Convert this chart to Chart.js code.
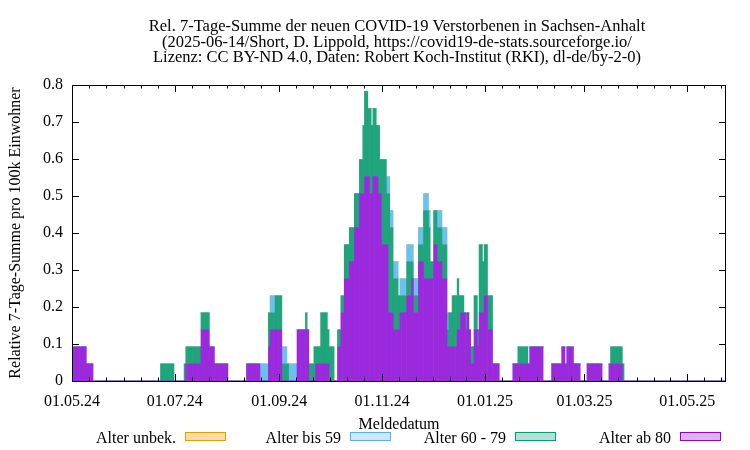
<!DOCTYPE html>
<html>
<head>
<meta charset="utf-8">
<script src="https://cdn.jsdelivr.net/npm/chart.js@4/dist/chart.umd.min.js"></script>
<style>
  body { margin: 0; background: #fff; }
</style>
</head>
<body>
<canvas id="plot" width="750" height="450"></canvas>
<script>
// Tage gezaehlt ab 01.05.24, Werte: rel. 7-Tage-Summe pro 100k
// Laeufe: [erster Tag, letzter Tag, Wert]
const ab80Runs = [
  [1, 8, 0.092], [9, 12, 0.046],
  [68, 76, 0.046], [77, 81, 0.138], [82, 84, 0.092], [85, 92, 0.046],
  [104, 111, 0.046], [117, 117, 0.092], [118, 124, 0.138],
  [134, 140, 0.138], [145, 152, 0.046],
  [158, 159, 0.092], [160, 161, 0.184], [162, 164, 0.276], [165, 167, 0.322],
  [168, 170, 0.414], [171, 173, 0.506], [174, 176, 0.552], [177, 178, 0.506],
  [179, 181, 0.552], [182, 183, 0.506], [184, 187, 0.368], [188, 190, 0.184],
  [191, 194, 0.138], [195, 198, 0.184], [199, 201, 0.230], [202, 202, 0.276],
  [203, 205, 0.184], [206, 208, 0.322], [209, 214, 0.276], [215, 216, 0.368],
  [217, 219, 0.322], [220, 222, 0.276], [223, 228, 0.092], [229, 230, 0.138],
  [231, 233, 0.184], [234, 234, 0.138], [235, 235, 0.184], [236, 236, 0.138],
  [237, 238, 0.046], [239, 240, 0.138], [241, 241, 0.092], [242, 244, 0.184],
  [245, 246, 0.230], [247, 249, 0.138], [250, 253, 0.046],
  [262, 271, 0.046], [272, 279, 0.092], [285, 290, 0.046], [291, 292, 0.092],
  [293, 293, 0.046], [294, 297, 0.092], [298, 301, 0.046], [306, 314, 0.046],
  [319, 326, 0.046]
];
const age6079Runs = [
  [53, 60, 0.046], [67, 76, 0.046], [77, 81, 0.046],
  [117, 117, 0.092], [118, 120, 0.046], [121, 124, 0.092], [125, 128, 0.046],
  [139, 139, 0.046], [141, 143, 0.046], [144, 144, 0.092], [145, 147, 0.046],
  [148, 151, 0.138], [152, 155, 0.092],
  [158, 161, 0.046], [162, 172, 0.092], [173, 173, 0.184], [174, 175, 0.230],
  [176, 176, 0.184], [177, 177, 0.230], [178, 180, 0.184], [181, 181, 0.138],
  [182, 182, 0.184], [183, 183, 0.092], [184, 186, 0.230], [187, 187, 0.138],
  [188, 188, 0.322], [189, 190, 0.230], [191, 193, 0.138], [194, 194, 0.092],
  [195, 198, 0.046], [199, 201, 0.092], [202, 208, 0.046], [209, 211, 0.184],
  [212, 212, 0.138], [213, 214, 0.046], [215, 222, 0.092], [223, 223, 0.046],
  [224, 225, 0.092], [226, 229, 0.138], [230, 230, 0.092], [231, 232, 0.046],
  [234, 234, 0.046], [237, 238, 0.046], [239, 240, 0.092], [241, 241, 0.046],
  [242, 243, 0.184], [244, 246, 0.138], [247, 249, 0.092],
  [265, 270, 0.046], [320, 327, 0.046]
];
const bis59Runs = [
  [112, 116, 0.046], [118, 120, 0.046], [125, 127, 0.046], [129, 133, 0.046],
  [187, 193, 0.046], [195, 212, 0.046], [217, 223, 0.046]
];
const unbekRuns = [];

const tickLabels = ['01.05.24', '01.07.24', '01.09.24', '01.11.24', '01.01.25', '01.03.25', '01.05.25'];
const yTicks = [0, 0.1, 0.2, 0.3, 0.4, 0.5, 0.6, 0.7, 0.8];
const seriesNames = ['Alter unbek.', 'Alter bis 59', 'Alter 60 - 79', 'Alter ab 80'];
const titleLines = [
  'Rel. 7-Tage-Summe der neuen COVID-19 Verstorbenen in Sachsen-Anhalt',
  '(2025-06-14/Short, D. Lippold, https://covid19-de-stats.sourceforge.io/',
  'Lizenz: CC BY-ND 4.0, Daten: Robert Koch-Institut (RKI), dl-de/by-2-0)'
];
const nDays = 389;

const day0 = Date.UTC(2024, 4, 1);
function dayOf(s) {
  const [d, m, y] = s.split('.').map(Number);
  return Math.round((Date.UTC(2000 + y, m - 1, d) - day0) / 86400000);
}
const tickDays = tickLabels.map(dayOf);
const minorDays = [];
for (let m = 0; m < 13; m++) {
  [1, 11, 21].forEach(d => {
    const t = Math.round((Date.UTC(2024, 4 + m, d) - day0) / 86400000);
    if (t > 0 && t < nDays - 1 && !tickDays.includes(t)) minorDays.push(t);
  });
}

function expand(runs) {
  const vals = new Array(nDays).fill(0);
  runs.forEach(([a, b, v]) => { for (let d = a; d <= b; d++) vals[d] = v; });
  return vals.map((v, d) => ({ x: d, y: v }));
}

const serif = '"Liberation Serif", "DejaVu Serif", serif';
const lineCol = ['#e69f00', '#56b4e9', '#009e73', '#9400d3'];
const boxFill = ['#f8dca4', '#cce8f8', '#b2e2d4', '#dfb2f2'];
const barFill = ['#e69f00', '#6cc0ee', '#20a47c', '#9a2adc'];

const frame = {
  id: 'frame',
  afterDraw(chart) {
    const { ctx, chartArea: a, scales: { x, y } } = chart;
    ctx.save();
    ctx.strokeStyle = '#000';
    ctx.lineWidth = 1;
    ctx.beginPath();
    yTicks.forEach(v => {
      const py = Math.round(y.getPixelForValue(v)) + 0.5;
      ctx.moveTo(a.left, py); ctx.lineTo(a.left + 7, py);
      ctx.moveTo(a.right, py); ctx.lineTo(a.right - 7, py);
    });
    tickDays.forEach(d => {
      const px = Math.round(x.getPixelForValue(d)) + 0.5;
      ctx.moveTo(px, a.bottom); ctx.lineTo(px, a.bottom - 7);
      ctx.moveTo(px, a.top); ctx.lineTo(px, a.top + 7);
    });
    minorDays.forEach(d => {
      const px = Math.round(x.getPixelForValue(d)) + 0.5;
      ctx.moveTo(px, a.bottom); ctx.lineTo(px, a.bottom - 3.5);
      ctx.moveTo(px, a.top); ctx.lineTo(px, a.top + 3.5);
    });
    ctx.stroke();
    ctx.strokeRect(a.left + 0.5, a.top + 0.5, a.right - a.left - 1, a.bottom - a.top);

    ctx.fillStyle = '#000';
    ctx.font = '16.5px ' + serif;
    ctx.textAlign = 'center';
    ctx.textBaseline = 'alphabetic';
    [31, 46.5, 62].forEach((by, i) => ctx.fillText(titleLines[i], 397, by));

    // Legende
    const boxLeft = [185, 350, 515, 680];
    ctx.font = '16px ' + serif;
    ctx.textAlign = 'right';
    seriesNames.forEach((name, i) => {
      ctx.fillStyle = '#000';
      ctx.fillText(name, boxLeft[i] - 9, 443);
      ctx.fillStyle = boxFill[i];
      ctx.fillRect(boxLeft[i], 432, 41, 9);
      ctx.strokeStyle = lineCol[i];
      ctx.strokeRect(boxLeft[i] + 0.5, 432.5, 40, 8);
    });
    ctx.restore();
  }
};

new Chart(document.getElementById('plot'), {
  type: 'bar',
  data: {
    datasets: [
      { label: seriesNames[3], data: expand(ab80Runs), backgroundColor: barFill[3] },
      { label: seriesNames[2], data: expand(age6079Runs), backgroundColor: barFill[2] },
      { label: seriesNames[1], data: expand(bis59Runs), backgroundColor: barFill[1] },
      { label: seriesNames[0], data: expand(unbekRuns), backgroundColor: barFill[0] }
    ]
  },
  options: {
    responsive: false,
    animation: false,
    devicePixelRatio: 1,
    barPercentage: 1,
    categoryPercentage: 1,
    layout: { padding: { top: 85, right: 24, bottom: 0, left: 0 } },
    plugins: { legend: { display: false }, title: { display: false }, tooltip: { enabled: false } },
    scales: {
      x: {
        type: 'linear',
        stacked: true,
        offset: false,
        min: 0,
        max: nDays - 1,
        grid: { display: false, drawTicks: false },
        border: { display: false },
        afterBuildTicks: axis => { axis.ticks = tickDays.map(v => ({ value: v })); },
        afterFit: axis => { axis.height = 69; },
        ticks: {
          autoSkip: false,
          maxRotation: 0,
          padding: 11,
          color: '#000',
          font: { family: serif, size: 16 },
          callback: v => tickLabels[tickDays.indexOf(v)]
        },
        title: {
          display: true,
          text: 'Meldedatum',
          color: '#000',
          font: { family: serif, size: 16 },
          padding: { top: 0, bottom: 16 }
        }
      },
      y: {
        stacked: true,
        min: 0,
        max: 0.8,
        grid: { display: false, drawTicks: false },
        border: { display: false },
        afterBuildTicks: axis => { axis.ticks = yTicks.map(v => ({ value: v })); },
        afterFit: axis => { axis.width = 72; },
        ticks: {
          padding: 9,
          color: '#000',
          font: { family: serif, size: 16 },
          callback: v => (v === 0 ? '0' : v.toFixed(1))
        },
        title: {
          display: true,
          text: 'Relative 7-Tage-Summe pro 100k Einwohner',
          color: '#000',
          font: { family: serif, size: 16 },
          padding: { top: 6, bottom: 0 }
        }
      }
    }
  },
  plugins: [frame]
});
</script>
</body>
</html>
